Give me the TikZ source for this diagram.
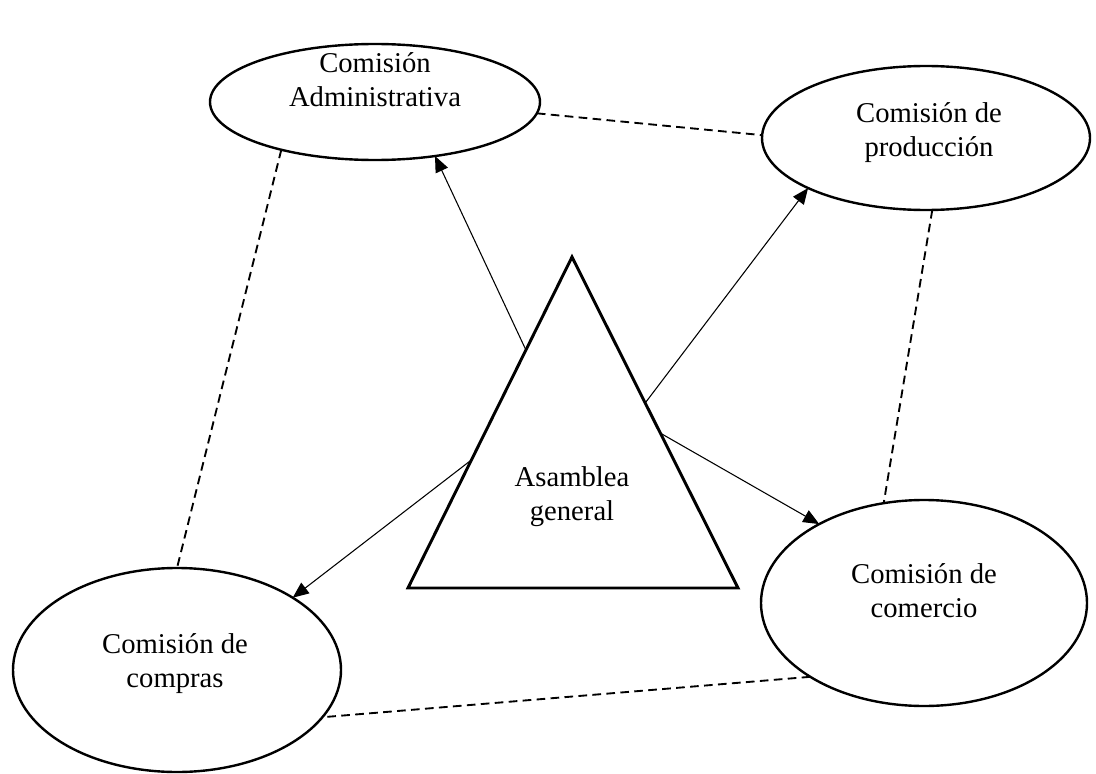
\documentclass[tikz,border=0pt]{standalone}
\usepackage{fontspec}
\setmainfont{Liberation Serif}
\usetikzlibrary{arrows.meta,calc,shapes.geometric}
\begin{document}
\begin{tikzpicture}[x=0.75pt,y=-0.75pt,
  comision/.style={draw, ellipse, line width=1.8pt, inner sep=0pt, outer sep=0pt},
  rotulo/.style={align=center, font=\fontsize{21.5}{25.5}\selectfont, inner sep=0pt},
  flecha/.style={line width=0.8pt, -{Triangle[length=12pt,width=10pt]}},
  enlace/.style={line width=1.4pt, dash pattern=on 6.5pt off 4pt}]

% page frame
\path[use as bounding box] (0,0) rectangle (1096,774);

% the four commissions
\node[comision, minimum width=247.5pt, minimum height=87pt]  (admin)   at (375,102) {};
\node[comision, minimum width=246pt,   minimum height=108pt] (prod)    at (926,138) {};
\node[comision, minimum width=244.5pt, minimum height=154.5pt] (comer) at (924,603) {};
\node[comision, minimum width=246pt,   minimum height=153pt] (compras) at (177,670) {};

\node[rotulo] (admin-t)   at (375,80)  {Comisión\\Administrativa};
\node[rotulo] (prod-t)    at (929,133) {Comisión de\\producción};
\node[rotulo] (comer-t)   at (924,591) {Comisión de\\comercio};
\node[rotulo] (compras-t) at (175,664) {Comisión de\\compras};

% the general assembly
\coordinate (apex) at (572,257);
\coordinate (bl)   at (408,588);
\coordinate (br)   at (738,588);
\draw[line width=2.2pt, line join=miter] (apex) -- (br) -- (bl) -- cycle;
\node[rotulo] (asamblea) at (572,497) {Asamblea\\general};

% where the arrows leave the triangle
\coordinate (sAdmin)   at ($(apex)!0.281!(bl)$);
\coordinate (sProd)    at ($(apex)!0.441!(br)$);
\coordinate (sComer)   at ($(apex)!0.532!(br)$);
\coordinate (sCompras) at ($(apex)!0.613!(bl)$);

\draw[flecha] (sAdmin)   -- (admin.-42.9);
\draw[flecha] (sProd)    -- (prod.203.7);
\draw[flecha] (sComer)   -- (comer.143.6);
\draw[flecha] (sCompras) -- (compras.32.2);

% links between commissions
\draw[enlace] (admin.-4.3)  -- (prod.179);
\draw[enlace] (admin.207.4) -- (compras.90);
\draw[enlace] (prod.275.4)  -- (comer.112.2);
\draw[enlace] (comer.213)   -- (compras.342.4);
\end{tikzpicture}
\end{document}
